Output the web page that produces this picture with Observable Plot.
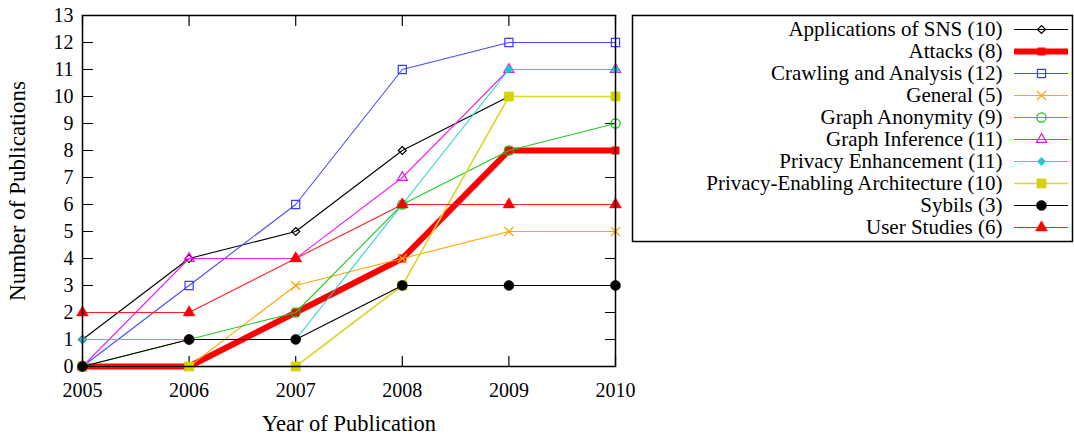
<!DOCTYPE html>
<html>
<head>
<meta charset="utf-8">
<script src="https://cdn.jsdelivr.net/npm/d3@7"></script>
<script src="https://cdn.jsdelivr.net/npm/@observablehq/plot@0.6"></script>
<style>
  html, body { margin: 0; padding: 0; background: #fff; }
  #wrap { position: relative; width: 1074px; height: 435px; font-family: "Liberation Serif", serif; }
  #main { position: absolute; left: 0; top: 0; }
  #legend { position: absolute; left: 631px; top: 14px; }
  svg { overflow: visible; }
</style>
</head>
<body>
<div id="wrap"><div id="main"></div><div id="legend"></div></div>
<script>
const years = [2005, 2006, 2007, 2008, 2009, 2010];
const yTicks = [0,1,2,3,4,5,6,7,8,9,10,11,12,13];

const seriesNames = ["Applications of SNS", "Attacks", "Crawling and Analysis", "General",
  "Graph Anonymity", "Graph Inference", "Privacy Enhancement",
  "Privacy-Enabling Architecture", "Sybils", "User Studies"];
const seriesTotals = [10, 8, 12, 5, 9, 11, 11, 10, 3, 6];

const applications        = [1, 4, 5, 8, 10, 10];
const attacks             = [0, 0, 2, 4, 8, 8];
const crawling            = [0, 3, 6, 11, 12, 12];
const general             = [0, 0, 3, 4, 5, 5];
const graphAnonymity      = [0, 1, 2, 6, 8, 9];
const graphInference      = [0, 4, 4, 7, 11, 11];
const privacyEnhancement  = [1, 1, 1, 6, 11, 11];
const privacyArchitecture = [0, 0, 0, 3, 10, 10];
const sybils              = [0, 1, 1, 3, 3, 3];
const userStudies         = [2, 2, 4, 6, 6, 6];

const seriesValues = [applications, attacks, crawling, general, graphAnonymity,
  graphInference, privacyEnhancement, privacyArchitecture, sybils, userStudies];

// styles (kept separate from data)
const styles = [
  {line: "#000000", mark: "#000000", width: 1.1, symbol: "diamond2", r: 3.6, filled: false},
  {line: "#ff0000", mark: "#ff0000", width: 6,   symbol: "square",   r: 4.2, filled: true},
  {line: "#4a4aff", mark: "#3a3aff", width: 1.1, symbol: "square",   r: 4.6, filled: false},
  {line: "#ffa500", mark: "#ffa500", width: 1.1, symbol: "times",    r: 4.2, filled: false},
  {line: "#22cc22", mark: "#11c011", width: 1.1, symbol: "circle",   r: 4.6, filled: false},
  {line: "#ee22ee", mark: "#ee11ee", width: 1.1, symbol: "triangle", r: 3.8, filled: false},
  {line: "#22d4d4", mark: "#11cccc", width: 1.1, symbol: "diamond2", r: 3.8, filled: true},
  {line: "#d8d830", mark: "#d4d400", width: 1.6, symbol: "square",   r: 5.2, filled: true},
  {line: "#000000", mark: "#000000", width: 1.1, symbol: "circle",   r: 5.0, filled: true},
  {line: "#ff2020", mark: "#ff0000", width: 1.1, symbol: "triangle", r: 4.4, filled: true}
];

const tickShape = { draw(context, l) { context.moveTo(0, 0); context.lineTo(0, -l); } };

const marks = [];
seriesNames.forEach((name, i) => {
  const rows = years.map((yr, j) => ({year: yr, value: seriesValues[i][j], series: name}));
  const s = styles[i];
  marks.push(Plot.line(rows, {x: "year", y: "value", stroke: s.line, strokeWidth: s.width}));
  marks.push(Plot.dot(rows, {x: "year", y: "value", symbol: s.symbol, r: s.r,
    fill: s.filled ? s.mark : "none", stroke: s.mark, strokeWidth: s.filled ? 0.5 : 1.2}));
});

const tickLen = 10;
const main = Plot.plot({
  width: 640, height: 435,
  marginLeft: 82, marginRight: 25, marginTop: 15, marginBottom: 69,
  style: {fontFamily: "'Liberation Serif', serif", fontSize: "20px", color: "#000", background: "transparent"},
  x: {domain: [2005, 2010]},
  y: {domain: [0, 13]},
  marks: [
    Plot.axisX({ticks: years, tickFormat: d => String(d), tickSize: 0, tickPadding: 16, fontSize: 20, label: null}),
    Plot.axisY({ticks: yTicks, tickFormat: d => String(d), tickSize: 0, tickPadding: 9, fontSize: 20, label: null}),
    Plot.vector(yTicks, {x: years[0], y: d => d, rotate: 90, length: tickLen, anchor: "start", shape: tickShape, stroke: "#000", strokeWidth: 1.2}),
    Plot.vector(yTicks, {x: years[years.length - 1], y: d => d, rotate: -90, length: tickLen, anchor: "start", shape: tickShape, stroke: "#000", strokeWidth: 1.2}),
    Plot.vector(years, {x: d => d, y: 0, rotate: 0, length: tickLen, anchor: "start", shape: tickShape, stroke: "#000", strokeWidth: 1.2}),
    Plot.vector(years, {x: d => d, y: 13, rotate: 180, length: tickLen, anchor: "start", shape: tickShape, stroke: "#000", strokeWidth: 1.2}),
    ...marks,
    Plot.frame({stroke: "#000", strokeWidth: 1.5}),
    Plot.text(["Number of Publications"], {frameAnchor: "left", dx: -65, rotate: -90, fontSize: 23, text: d => d, textAnchor: "middle", lineAnchor: "middle"}),
    Plot.text(["Year of Publication"], {frameAnchor: "bottom", dy: 57, fontSize: 22.5, text: d => d, textAnchor: "middle", lineAnchor: "middle"})
  ]
});
document.getElementById("main").appendChild(main);

// Legend
const legendMarks = [];
seriesNames.forEach((name, i) => {
  const s = styles[i];
  legendMarks.push(Plot.ruleY([name], {y: d => d, x1: 0, x2: 1, stroke: s.line, strokeWidth: s.width}));
  legendMarks.push(Plot.dot([name], {x: 0.5, y: d => d, symbol: s.symbol, r: s.r,
    fill: s.filled ? s.mark : "none", stroke: s.mark, strokeWidth: s.filled ? 0.5 : 1.2}));
});
const legend = Plot.plot({
  width: 442, height: 228,
  marginLeft: 1, marginRight: 1, marginTop: 1, marginBottom: 1,
  style: {fontFamily: "'Liberation Serif', serif", fontSize: "21px", color: "#000", background: "transparent"},
  x: {domain: [0, 1], range: [383, 437], axis: null},
  y: {type: "point", domain: seriesNames, range: [12, 216], padding: 0, axis: null},
  marks: [
    Plot.frame({stroke: "#000", strokeWidth: 1.5}),
    Plot.text(seriesNames, {x: 0, y: d => d, text: (d, i) => `${d} (${seriesTotals[i]})`, textAnchor: "end", lineAnchor: "middle", dx: -12, fontSize: 21}),
    ...legendMarks
  ]
});
document.getElementById("legend").appendChild(legend);
</script>
</body>
</html>
